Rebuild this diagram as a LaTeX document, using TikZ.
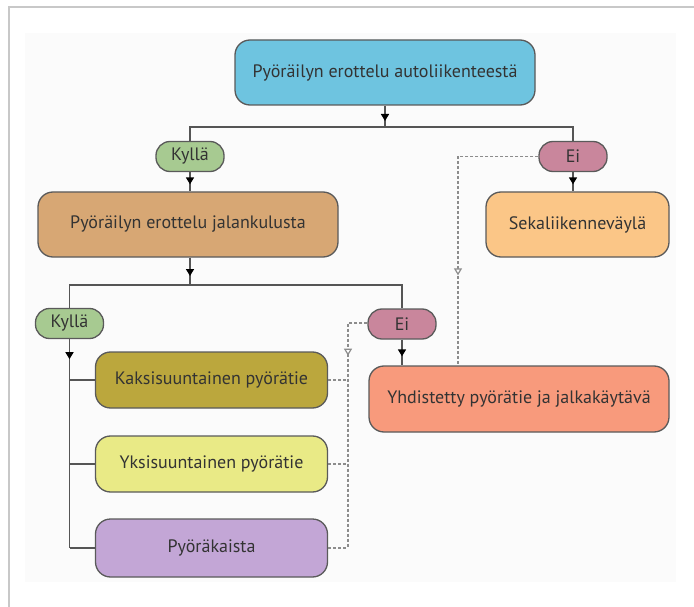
\documentclass[tikz,border=0pt]{standalone}
\usepackage{fontspec}
\setmainfont{PT Sans}
\usetikzlibrary{arrows.meta,decorations.markings}
\definecolor{framec}{HTML}{C8C8C8}
\definecolor{bgc}{HTML}{FBFBFB}
\definecolor{bordc}{HTML}{5A5A5A}
\definecolor{linec}{HTML}{555555}
\definecolor{dashc}{HTML}{8C8C8C}
\definecolor{txtc}{HTML}{333333}
\definecolor{topblue}{HTML}{6EC4E0}
\definecolor{kyllac}{HTML}{A7CA91}
\definecolor{eic}{HTML}{C9869C}
\definecolor{tanc}{HTML}{D7A774}
\definecolor{sekac}{HTML}{FBC687}
\definecolor{olivec}{HTML}{BBA73D}
\definecolor{yksic}{HTML}{E9EA86}
\definecolor{kaistac}{HTML}{C3A6D6}
\definecolor{yhdc}{HTML}{F89A7C}
\begin{document}
\begin{tikzpicture}[x=1pt,y=-1pt,
  box/.style={draw=bordc, line width=1.3pt, rounded corners=15pt, minimum width=300pt, minimum height=65pt, inner sep=0pt, text=txtc, font=\fontsize{18}{21}\selectfont},
  midbox/.style={box, minimum width=232pt, minimum height=56pt},
  pill/.style={draw=bordc, line width=1.3pt, rounded corners=14pt, minimum width=68pt, minimum height=30pt, inner sep=0pt, text=txtc, font=\fontsize{18}{21}\selectfont},
  conn/.style={draw=linec, line width=1.6pt},
  dsh/.style={draw=dashc, line width=1.6pt, dash pattern=on 3pt off 2pt},
  tipat/.style={postaction={decorate}, decoration={markings, mark=at position #1 with {\arrow[black]{Triangle[width=8pt,length=7pt]}}}},
  otipat/.style={postaction={decorate}, decoration={markings, mark=at position #1 with {\arrow[dashc, line width=1.2pt]{Triangle[open, width=8pt, length=7pt, fill=white]}}}}
]
\useasboundingbox (0,0) rectangle (694,607);
% frame and background
\fill[bgc] (25,33) rectangle (676,582);
\draw[framec, line width=1.5pt] (9,607) -- (9,7) -- (694,7);

% nodes
\node[box, fill=topblue] (top) at (385,72.5) {Pyöräilyn erottelu autoliikenteestä};
\node[pill, fill=kyllac] (k1) at (190,156.5) {Kyllä};
\node[pill, fill=eic] (e1) at (573,156.5) {Ei};
\node[box, fill=tanc] (sep) at (188,224.5) {Pyöräilyn erottelu jalankulusta};
\node[box, fill=sekac, minimum width=183pt] (seka) at (577.5,224.5) {Sekaliikenneväylä};
\node[pill, fill=kyllac] (k2) at (69.5,323.5) {Kyllä};
\node[pill, fill=eic] (e2) at (402,324) {Ei};
\node[midbox, fill=olivec] (kaksi) at (211.5,380) {Kaksisuuntainen pyörätie};
\node[midbox, fill=yksic] (yksi) at (211.5,464) {Yksisuuntainen pyörätie};
\node[midbox, fill=kaistac, minimum height=58pt] (kaista) at (211.5,548) {Pyöräkaista};
\node[box, fill=yhdc, minimum height=66pt] (yhd) at (519,399) {Yhdistetty pyörätie ja jalkakäytävä};

% junction coordinates
\coordinate (j1) at (385,127);
\coordinate (j2) at (190,285);
\coordinate (t2) at (69.5,548);
\coordinate (d1) at (458,156.5);
\coordinate (d2) at (348,323);
\coordinate (d2b) at (348,548);

% solid connectors
\draw[conn, tipat=-6pt] (top.south) -- (j1);
\draw[conn] (k1.north) |- (j1) -| (e1.north);
\draw[conn, tipat=-7pt] (k1.south) -- (sep.north -| k1.south);
\draw[conn, tipat=-7pt] (e1.south) -- (seka.north -| e1.south);
\draw[conn, tipat=-9pt] (sep.south -| j2) -- (j2);
\draw[conn] (k2.north) |- (j2) -| (e2.north);
\draw[conn, tipat=20pt] (k2.south) -- (t2);
\draw[conn] (kaksi.west) -- (kaksi.west -| t2);
\draw[conn] (yksi.west) -- (yksi.west -| t2);
\draw[conn] (kaista.west) -- (t2);
\draw[conn, tipat=-9pt] (e2.south) -- (yhd.north -| e2.south);

% dashed connectors
\draw[dsh, otipat=-90pt] (e1.west) -- (d1) -- (yhd.north -| d1);
\draw[dsh, otipat=52pt] (e2.west |- d2) -- (d2) -- (d2b);
\draw[dsh] (kaksi.east) -- (kaksi.east -| d2);
\draw[dsh] (yksi.east) -- (yksi.east -| d2);
\draw[dsh] (kaista.east) -- (d2b);
\end{tikzpicture}
\end{document}
